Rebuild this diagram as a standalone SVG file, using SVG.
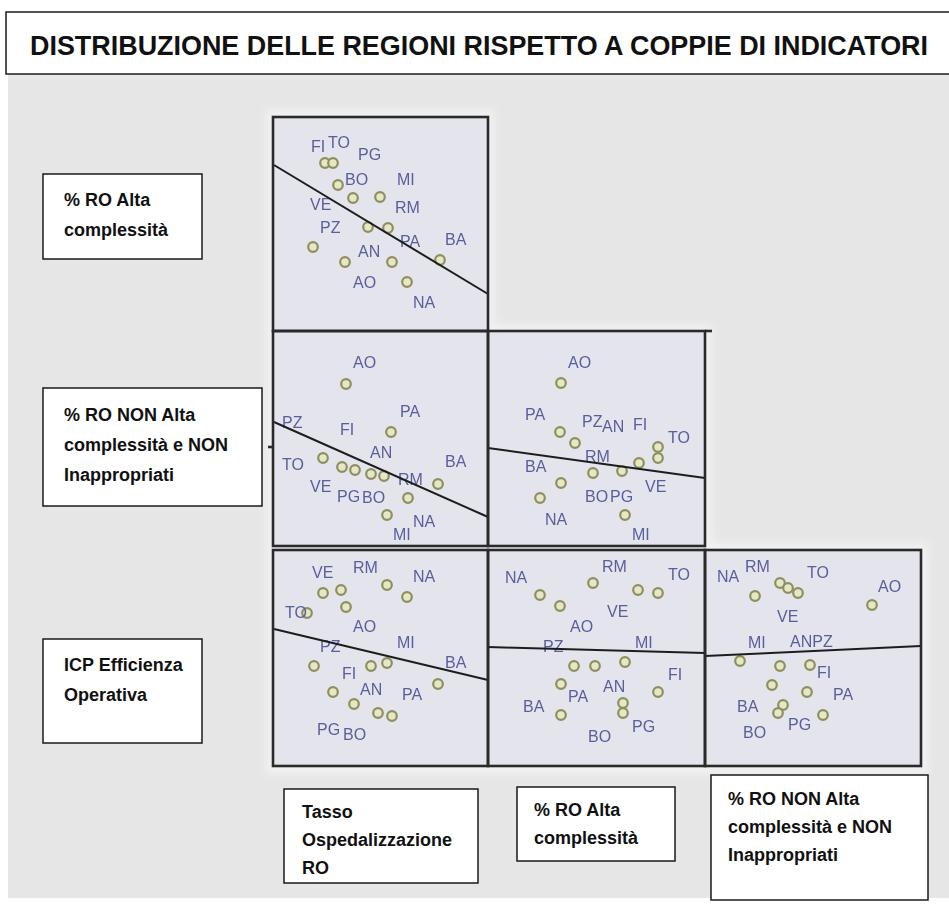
<svg xmlns="http://www.w3.org/2000/svg" width="949" height="904" viewBox="0 0 949 904">
  <style>
    .box { fill: #ffffff; stroke: #1a1a1a; stroke-width: 1.5; }
    .lbl { font-family: "Liberation Sans", Arial, sans-serif; font-weight: bold; font-size: 18px; fill: #111111; }
    .title { font-family: "Liberation Sans", Arial, sans-serif; font-weight: bold; font-size: 27px; fill: #111111; }
    .panel { fill: #e3e4ec; }
    .frame { fill: none; stroke: #2a2a2a; stroke-width: 2.6; }
    .fit { fill: none; stroke: #1e1e1e; stroke-width: 2; }
    .pt { fill: #e6e7c4; stroke: #8e8f5e; stroke-width: 2.2; }
    .rg { font-family: "Liberation Sans", Arial, sans-serif; font-size: 16px; fill: #5a5e9c; }
  </style>
  <defs>
    <filter id="soft" x="-5%" y="-5%" width="110%" height="110%">
      <feGaussianBlur stdDeviation="0.55"/>
    </filter>
    <filter id="haze" x="-10%" y="-10%" width="120%" height="120%">
      <feGaussianBlur stdDeviation="4"/>
    </filter>
  </defs>

  <!-- page -->
  <rect x="0" y="0" width="949" height="904" fill="#ffffff"/>
  <rect x="8" y="74" width="941" height="824" fill="#e6e6e6"/>

  <!-- title -->
  <g id="title">
    <rect class="box" x="6" y="12" width="950" height="62"/>
    <text class="title" x="30" y="55" textLength="898" lengthAdjust="spacingAndGlyphs">DISTRIBUZIONE DELLE REGIONI RISPETTO A COPPIE DI INDICATORI</text>
  </g>

  <!-- light halo around the plot matrix -->
  <path d="M266,110 H494 V325 H712 V543 H928 V774 H266 Z" fill="#f2f2f4" filter="url(#haze)"/>

  <!-- scatter matrix -->
  <g id="matrix" filter="url(#soft)">
    <g id="p-alta-tasso">
      <rect class="panel" x="273" y="117" width="215" height="214"/>
      <g class="pts">
        <circle class="pt" cx="325" cy="163" r="4.8"/>
        <circle class="pt" cx="333" cy="163" r="4.8"/>
        <circle class="pt" cx="338" cy="185" r="4.8"/>
        <circle class="pt" cx="353" cy="198" r="4.8"/>
        <circle class="pt" cx="380" cy="197" r="4.8"/>
        <circle class="pt" cx="368" cy="227" r="4.8"/>
        <circle class="pt" cx="388" cy="228" r="4.8"/>
        <circle class="pt" cx="313" cy="247" r="4.8"/>
        <circle class="pt" cx="345" cy="262" r="4.8"/>
        <circle class="pt" cx="392" cy="262" r="4.8"/>
        <circle class="pt" cx="440" cy="260" r="4.8"/>
        <circle class="pt" cx="407" cy="282" r="4.8"/>
      </g>
      <g class="rg">
        <text x="311" y="152">FI</text>
        <text x="328" y="148">TO</text>
        <text x="358" y="160">PG</text>
        <text x="345" y="185">BO</text>
        <text x="397" y="185">MI</text>
        <text x="310" y="210">VE</text>
        <text x="395" y="213">RM</text>
        <text x="320" y="233">PZ</text>
        <text x="400" y="247">PA</text>
        <text x="445" y="245">BA</text>
        <text x="358" y="257">AN</text>
        <text x="353" y="288">AO</text>
        <text x="413" y="308">NA</text>
      </g>
      <line class="fit" x1="274" y1="165" x2="488" y2="294"/>
    </g>

    <g id="p-nonalta-tasso">
      <rect class="panel" x="273" y="331" width="215" height="215"/>
      <g class="pts">
        <circle class="pt" cx="346" cy="384" r="4.8"/>
        <circle class="pt" cx="391" cy="432" r="4.8"/>
        <circle class="pt" cx="323" cy="458" r="4.8"/>
        <circle class="pt" cx="342" cy="467" r="4.8"/>
        <circle class="pt" cx="355" cy="470" r="4.8"/>
        <circle class="pt" cx="371" cy="474" r="4.8"/>
        <circle class="pt" cx="384" cy="476" r="4.8"/>
        <circle class="pt" cx="408" cy="498" r="4.8"/>
        <circle class="pt" cx="438" cy="484" r="4.8"/>
        <circle class="pt" cx="387" cy="515" r="4.8"/>
      </g>
      <g class="rg">
        <text x="353" y="368">AO</text>
        <text x="400" y="417">PA</text>
        <text x="282" y="428">PZ</text>
        <text x="340" y="435">FI</text>
        <text x="370" y="458">AN</text>
        <text x="445" y="467">BA</text>
        <text x="282" y="470">TO</text>
        <text x="398" y="485">RM</text>
        <text x="310" y="492">VE</text>
        <text x="337" y="502">PG</text>
        <text x="362" y="503">BO</text>
        <text x="413" y="527">NA</text>
        <text x="393" y="540">MI</text>
      </g>
      <line class="fit" x1="274" y1="422" x2="488" y2="517"/>
    </g>

    <g id="p-nonalta-alta">
      <rect class="panel" x="488" y="331" width="217" height="215"/>
      <g class="pts">
        <circle class="pt" cx="561" cy="383" r="4.8"/>
        <circle class="pt" cx="560" cy="432" r="4.8"/>
        <circle class="pt" cx="575" cy="443" r="4.8"/>
        <circle class="pt" cx="658" cy="447" r="4.8"/>
        <circle class="pt" cx="658" cy="458" r="4.8"/>
        <circle class="pt" cx="639" cy="463" r="4.8"/>
        <circle class="pt" cx="593" cy="473" r="4.8"/>
        <circle class="pt" cx="622" cy="471" r="4.8"/>
        <circle class="pt" cx="561" cy="483" r="4.8"/>
        <circle class="pt" cx="540" cy="498" r="4.8"/>
        <circle class="pt" cx="625" cy="515" r="4.8"/>
      </g>
      <g class="rg">
        <text x="568" y="368">AO</text>
        <text x="525" y="420">PA</text>
        <text x="582" y="427">PZ</text>
        <text x="602" y="432">AN</text>
        <text x="633" y="430">FI</text>
        <text x="668" y="443">TO</text>
        <text x="525" y="472">BA</text>
        <text x="585" y="462">RM</text>
        <text x="645" y="492">VE</text>
        <text x="585" y="502">BO</text>
        <text x="610" y="502">PG</text>
        <text x="545" y="525">NA</text>
        <text x="632" y="540">MI</text>
      </g>
      <line class="fit" x1="488" y1="448" x2="705" y2="478"/>
    </g>

    <g id="p-icp-tasso">
      <rect class="panel" x="273" y="550" width="215" height="216"/>
      <g class="pts">
        <circle class="pt" cx="323" cy="593" r="4.8"/>
        <circle class="pt" cx="341" cy="590" r="4.8"/>
        <circle class="pt" cx="346" cy="607" r="4.8"/>
        <circle class="pt" cx="387" cy="585" r="4.8"/>
        <circle class="pt" cx="407" cy="597" r="4.8"/>
        <circle class="pt" cx="307" cy="613" r="4.8"/>
        <circle class="pt" cx="314" cy="666" r="4.8"/>
        <circle class="pt" cx="371" cy="666" r="4.8"/>
        <circle class="pt" cx="387" cy="663" r="4.8"/>
        <circle class="pt" cx="333" cy="692" r="4.8"/>
        <circle class="pt" cx="354" cy="704" r="4.8"/>
        <circle class="pt" cx="378" cy="713" r="4.8"/>
        <circle class="pt" cx="392" cy="716" r="4.8"/>
        <circle class="pt" cx="438" cy="684" r="4.8"/>
      </g>
      <g class="rg">
        <text x="312" y="578">VE</text>
        <text x="353" y="573">RM</text>
        <text x="413" y="582">NA</text>
        <text x="285" y="618">TO</text>
        <text x="353" y="632">AO</text>
        <text x="397" y="648">MI</text>
        <text x="320" y="652">PZ</text>
        <text x="445" y="668">BA</text>
        <text x="342" y="679">FI</text>
        <text x="360" y="695">AN</text>
        <text x="402" y="700">PA</text>
        <text x="317" y="735">PG</text>
        <text x="343" y="740">BO</text>
      </g>
      <line class="fit" x1="274" y1="629" x2="488" y2="680"/>
    </g>

    <g id="p-icp-alta">
      <rect class="panel" x="488" y="550" width="217" height="216"/>
      <g class="pts">
        <circle class="pt" cx="593" cy="583" r="4.8"/>
        <circle class="pt" cx="540" cy="595" r="4.8"/>
        <circle class="pt" cx="560" cy="606" r="4.8"/>
        <circle class="pt" cx="638" cy="590" r="4.8"/>
        <circle class="pt" cx="658" cy="593" r="4.8"/>
        <circle class="pt" cx="574" cy="666" r="4.8"/>
        <circle class="pt" cx="595" cy="666" r="4.8"/>
        <circle class="pt" cx="625" cy="662" r="4.8"/>
        <circle class="pt" cx="561" cy="684" r="4.8"/>
        <circle class="pt" cx="658" cy="692" r="4.8"/>
        <circle class="pt" cx="561" cy="715" r="4.8"/>
        <circle class="pt" cx="623" cy="703" r="4.8"/>
        <circle class="pt" cx="623" cy="713" r="4.8"/>
      </g>
      <g class="rg">
        <text x="505" y="583">NA</text>
        <text x="602" y="572">RM</text>
        <text x="668" y="580">TO</text>
        <text x="607" y="617">VE</text>
        <text x="570" y="632">AO</text>
        <text x="543" y="652">PZ</text>
        <text x="635" y="648">MI</text>
        <text x="668" y="680">FI</text>
        <text x="603" y="692">AN</text>
        <text x="568" y="702">PA</text>
        <text x="523" y="712">BA</text>
        <text x="588" y="742">BO</text>
        <text x="632" y="732">PG</text>
      </g>
      <line class="fit" x1="488" y1="647" x2="705" y2="653"/>
    </g>

    <g id="p-icp-nonalta">
      <rect class="panel" x="705" y="550" width="216" height="216"/>
      <g class="pts">
        <circle class="pt" cx="755" cy="596" r="4.8"/>
        <circle class="pt" cx="780" cy="583" r="4.8"/>
        <circle class="pt" cx="788" cy="588" r="4.8"/>
        <circle class="pt" cx="798" cy="593" r="4.8"/>
        <circle class="pt" cx="872" cy="605" r="4.8"/>
        <circle class="pt" cx="740" cy="661" r="4.8"/>
        <circle class="pt" cx="780" cy="666" r="4.8"/>
        <circle class="pt" cx="810" cy="665" r="4.8"/>
        <circle class="pt" cx="772" cy="685" r="4.8"/>
        <circle class="pt" cx="807" cy="692" r="4.8"/>
        <circle class="pt" cx="783" cy="705" r="4.8"/>
        <circle class="pt" cx="778" cy="713" r="4.8"/>
        <circle class="pt" cx="823" cy="715" r="4.8"/>
      </g>
      <g class="rg">
        <text x="717" y="582">NA</text>
        <text x="745" y="572">RM</text>
        <text x="807" y="578">TO</text>
        <text x="878" y="592">AO</text>
        <text x="777" y="622">VE</text>
        <text x="748" y="648">MI</text>
        <text x="790" y="647">ANPZ</text>
        <text x="817" y="678">FI</text>
        <text x="833" y="700">PA</text>
        <text x="737" y="712">BA</text>
        <text x="743" y="738">BO</text>
        <text x="788" y="730">PG</text>
      </g>
      <line class="fit" x1="705" y1="656" x2="921" y2="646"/>
    </g>

    <!-- panel frames -->
    <g id="frames">
      <rect class="frame" x="273" y="117" width="215" height="214"/>
      <rect class="frame" x="273" y="331" width="215" height="215"/>
      <rect class="frame" x="488" y="331" width="217" height="215"/>
      <line class="frame" x1="705" y1="331" x2="712" y2="331"/>
      <line class="frame" x1="268" y1="447" x2="273" y2="447"/>
      <rect class="frame" x="273" y="550" width="215" height="216"/>
      <rect class="frame" x="488" y="550" width="217" height="216"/>
      <rect class="frame" x="705" y="550" width="216" height="216"/>
    </g>
  </g>

  <!-- row labels -->
  <g id="row-alta">
    <rect class="box" x="43" y="174" width="159" height="85"/>
    <text class="lbl" x="64" y="206">% RO Alta</text>
    <text class="lbl" x="64" y="236">complessità</text>
  </g>
  <g id="row-nonalta">
    <rect class="box" x="43" y="388" width="219" height="118"/>
    <text class="lbl" x="64" y="421">% RO NON Alta</text>
    <text class="lbl" x="64" y="451">complessità e NON</text>
    <text class="lbl" x="64" y="481">Inappropriati</text>
  </g>
  <g id="row-icp">
    <rect class="box" x="43" y="639" width="159" height="104"/>
    <text class="lbl" x="64" y="671">ICP Efficienza</text>
    <text class="lbl" x="64" y="701">Operativa</text>
  </g>

  <!-- column labels -->
  <g id="col-tasso">
    <rect class="box" x="284" y="789" width="194" height="94"/>
    <text class="lbl" x="302" y="818">Tasso</text>
    <text class="lbl" x="302" y="846">Ospedalizzazione</text>
    <text class="lbl" x="302" y="874">RO</text>
  </g>
  <g id="col-alta">
    <rect class="box" x="517" y="787" width="158" height="74"/>
    <text class="lbl" x="534" y="816">% RO Alta</text>
    <text class="lbl" x="534" y="844">complessità</text>
  </g>
  <g id="col-nonalta">
    <rect class="box" x="711" y="775" width="217" height="125"/>
    <text class="lbl" x="728" y="805">% RO NON Alta</text>
    <text class="lbl" x="728" y="833">complessità e NON</text>
    <text class="lbl" x="728" y="861">Inappropriati</text>
  </g>
</svg>
